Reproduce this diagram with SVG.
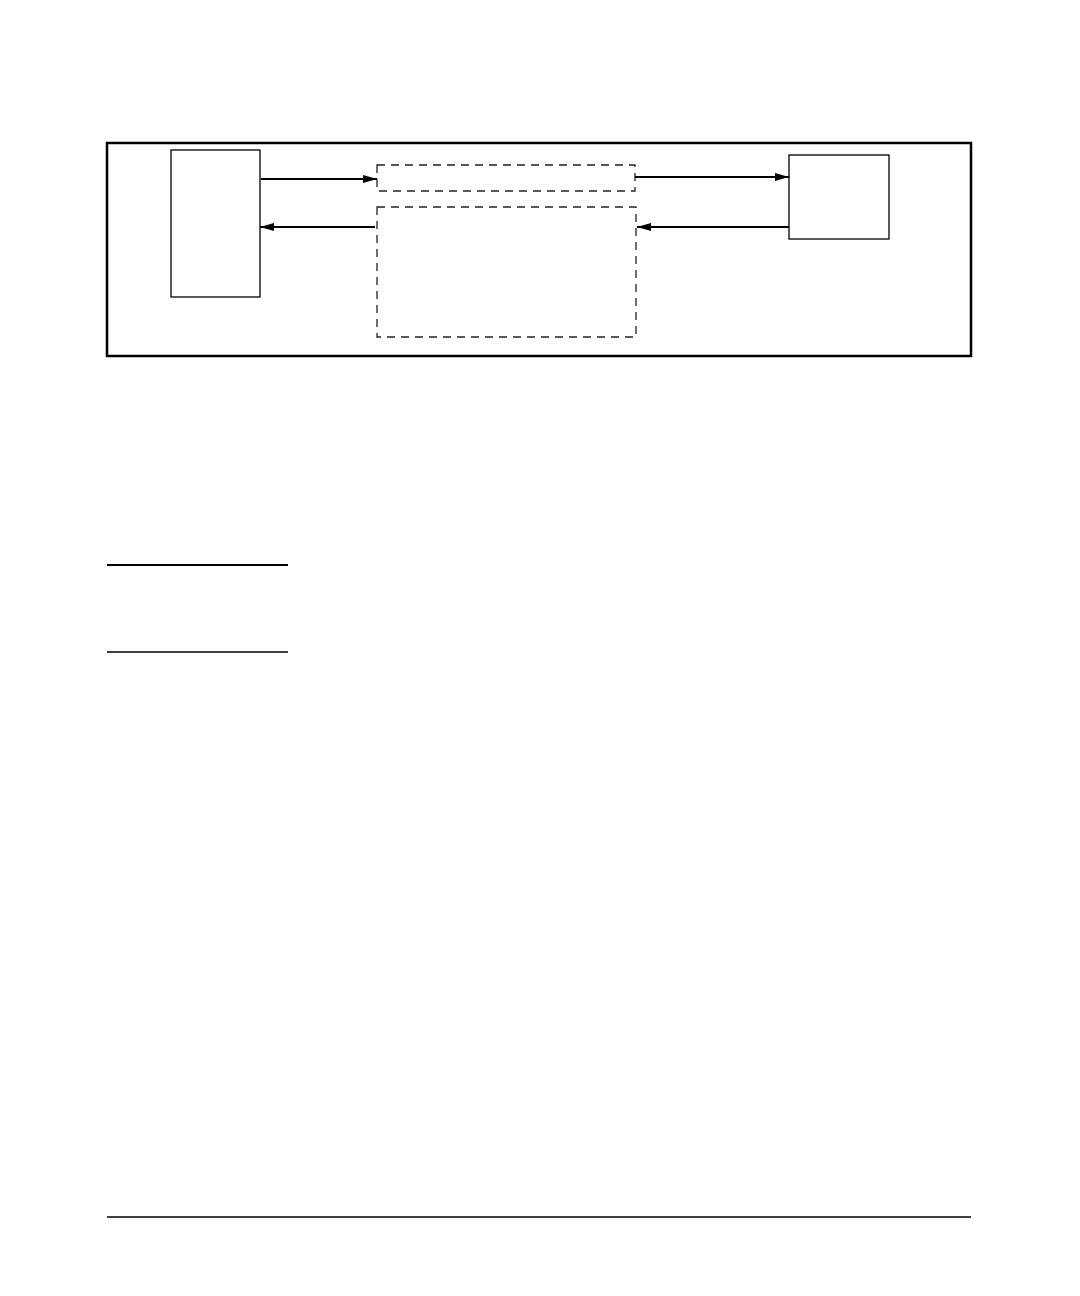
<svg xmlns="http://www.w3.org/2000/svg" width="1080" height="1296" viewBox="0 0 1080 1296">
<style>
.box{fill:#fff;stroke:#000;stroke-width:1.3}
.dash{fill:none;stroke:#222;stroke-width:1.3;stroke-dasharray:8,6}
.conn{stroke:#000;stroke-width:2.2;fill:none;marker-end:url(#ah)}
.rule{stroke:#000;fill:none}
</style>
<defs>
<marker id="ah" viewBox="0 0 14 8" refX="14" refY="4" markerWidth="14" markerHeight="8" markerUnits="userSpaceOnUse" orient="auto">
<path d="M0,0 L14,4 L0,8 Z" fill="#000"/>
</marker>
</defs>
<rect width="1080" height="1296" fill="#fff"/>
<g id="frame"><rect x="107" y="143" width="864" height="213" fill="none" stroke="#000" stroke-width="2.5"/></g>
<g id="left-node"><rect class="box" x="171" y="150" width="89" height="147"/></g>
<g id="right-node"><rect class="box" x="789" y="155" width="100" height="84"/></g>
<g id="dashed-top"><rect class="dash" x="377" y="165" width="258" height="26"/></g>
<g id="dashed-bottom"><rect class="dash" x="377" y="207" width="259" height="130"/></g>
<g id="connectors">
<line class="conn" x1="261" y1="179" x2="377" y2="179"/>
<line class="conn" x1="375" y1="227" x2="260" y2="227"/>
<line class="conn" x1="635" y1="177" x2="789" y2="177"/>
<line class="conn" x1="789" y1="227" x2="637" y2="227"/>
</g>
<g id="rules">
<line class="rule" x1="107" y1="565" x2="288" y2="565" stroke-width="2"/>
<line class="rule" x1="107" y1="652" x2="288" y2="652" stroke-width="1.5"/>
<line class="rule" x1="107" y1="1217" x2="971" y2="1217" stroke-width="1.5"/>
</g>
</svg>
